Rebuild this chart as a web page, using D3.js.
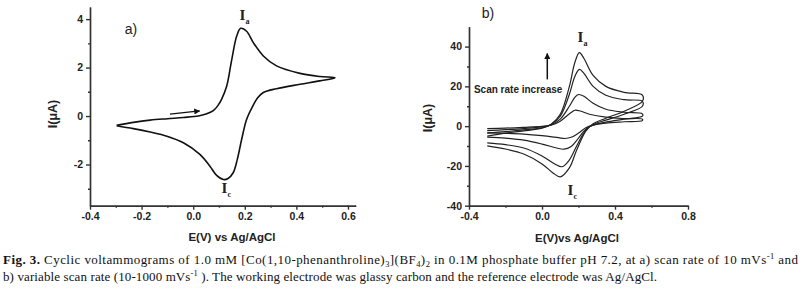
<!DOCTYPE html>
<html lang="en">
<head>
    <meta charset="UTF-8">
    <title>Fig. 3</title>
    <script src="https://cdn.jsdelivr.net/npm/d3@7"></script>
    <style>
        body { margin: 0; background: #fff; }
        .tick text { font-family: "Liberation Sans", Arial, sans-serif; font-weight: bold; font-size: 10.5px; fill: #222; }
        .domain, .tick line { stroke: #333; stroke-width: 1.4; }
    </style>
</head>
<body>
<script>

    // a) 10 mV/s, one closed scan [E (V), I (uA)]
    var cvSlow = [
        [-0.297, -0.38], [-0.232, -0.26], [-0.167, -0.17], [-0.10, -0.11], [-0.038, -0.06], [0.02, 0.0],
        [0.05, 0.08], [0.078, 0.22], [0.095, 0.42], [0.110, 0.69], [0.130, 1.24], [0.149, 2.30],
        [0.169, 3.31], [0.184, 3.62], [0.207, 3.50], [0.233, 3.03], [0.272, 2.48], [0.323, 2.07],
        [0.414, 1.76], [0.491, 1.63], [0.550, 1.58],
        [0.491, 1.45], [0.414, 1.31], [0.323, 1.13], [0.272, 0.97], [0.250, 0.75], [0.233, 0.45],
        [0.207, -0.14], [0.188, -0.96], [0.171, -1.79], [0.155, -2.34], [0.135, -2.58], [0.117, -2.62],
        [0.091, -2.45], [0.065, -2.07], [0.026, -1.58], [-0.038, -1.10], [-0.102, -0.83],
        [-0.167, -0.66], [-0.232, -0.52], [-0.297, -0.40]
    ];

    // b) variable scan rate, largest to smallest
    var cvFast1 = [
        [-0.3, -5.0], [-0.2, -3.5], [-0.1, -2.4], [0.0, -1.0], [0.05, 1.0], [0.10, 6.0], [0.15, 20.0],
        [0.18, 32.0], [0.205, 37.0], [0.23, 34.0], [0.28, 25.5], [0.35, 20.0], [0.45, 17.0], [0.55, 15.6],
        [0.55, 12.5], [0.45, 7.5], [0.35, 4.0], [0.28, 1.2], [0.24, -2.5], [0.19, -12.0], [0.15, -21.0],
        [0.10, -25.5], [0.06, -23.5], [0.0, -19.0], [-0.1, -14.0], [-0.2, -11.5], [-0.3, -9.9]
    ];
    var cvFast2 = [
        [-0.3, -3.5], [-0.2, -2.8], [-0.1, -1.9], [0.0, -0.8], [0.05, 0.8], [0.10, 5.0], [0.15, 16.0],
        [0.18, 25.0], [0.205, 28.5], [0.23, 26.5], [0.28, 20.0], [0.35, 15.5], [0.45, 13.3], [0.55, 12.5],
        [0.55, 10.0], [0.45, 6.0], [0.35, 3.0], [0.28, 0.8], [0.24, -2.0], [0.19, -10.0], [0.15, -17.0],
        [0.11, -20.4], [0.07, -19.0], [0.0, -15.0], [-0.1, -11.0], [-0.2, -9.3], [-0.3, -8.4]
    ];
    var cvFast3 = [
        [-0.3, -2.3], [-0.2, -1.8], [-0.1, -1.2], [0.0, -0.4], [0.05, 0.6], [0.10, 3.5], [0.15, 10.0],
        [0.18, 14.5], [0.20, 15.9], [0.23, 15.0], [0.28, 11.5], [0.35, 8.5], [0.45, 7.0], [0.55, 6.2],
        [0.55, 5.0], [0.45, 3.5], [0.35, 2.0], [0.28, 0.5], [0.24, -1.5], [0.20, -6.0], [0.16, -10.2],
        [0.12, -11.6], [0.08, -11.0], [0.0, -9.0], [-0.1, -7.0], [-0.2, -6.0], [-0.3, -5.5]
    ];
    var cvFast4 = [
        [-0.3, -1.2], [-0.2, -1.0], [-0.1, -0.6], [0.0, -0.1], [0.05, 0.5], [0.10, 2.5], [0.14, 5.5],
        [0.17, 7.5], [0.18, 8.0], [0.21, 7.6], [0.26, 6.0], [0.35, 4.5], [0.45, 3.8], [0.55, 3.5],
        [0.55, 2.8], [0.45, 2.2], [0.35, 1.5], [0.28, 0.5], [0.24, -0.8], [0.20, -3.5], [0.16, -5.6],
        [0.126, -6.2], [0.09, -5.8], [0.0, -4.8], [-0.1, -4.0], [-0.2, -3.6], [-0.3, -3.4]
    ];

    // tick values
    var xTicksA = [-0.4, -0.2, 0.0, 0.2, 0.4, 0.6];
    var xMinorA = [-0.3, -0.1, 0.1, 0.3, 0.5];
    var yTicksA = [-2, 0, 2, 4];
    var yMinorA = [-3, -1, 1, 3];
    var xTicksB = [-0.4, 0.0, 0.4, 0.8];
    var xMinorB = [-0.2, 0.2, 0.6];
    var yTicksB = [-40, -20, 0, 20, 40];
    var yMinorB = [-30, -10, 10, 30];

    var width = 803;
    var height = 290;
    var svg = d3.select("body")
        .append("svg")
        .attr("width", width)
        .attr("height", height);

    svg.append("rect").attr("width", width).attr("height", height).attr("fill", "#fff");

    // arrow head
    svg.append("defs").append("marker")
        .attr("id", "head")
        .attr("viewBox", "0 0 10 10")
        .attr("refX", 9).attr("refY", 5)
        .attr("markerWidth", 6).attr("markerHeight", 6)
        .attr("markerUnits", "userSpaceOnUse")
        .attr("orient", "auto")
        .append("path")
        .attr("d", "M0,0 L10,5 L0,10 z")
        .attr("fill", "#111");

    // scales
    var xA = d3.scaleLinear().domain([-0.4, 0.63]).range([90, 355.7]);
    var yA = d3.scaleLinear().domain([-3.7, 4.5]).range([205.7, 7]);
    var xB = d3.scaleLinear().domain([-0.4, 0.8]).range([469, 688]);
    var yB = d3.scaleLinear().domain([-40, 50]).range([205.7, 26.7]);

    function drawAxes(x, y, xt, xm, yt, ym, fmtX, fmtY) {
        var bottom = y.range()[0];
        var left = x.range()[0];
        svg.append("g").attr("transform", "translate(0," + bottom + ")")
            .call(d3.axisBottom(x).tickValues(xm).tickSize(2).tickSizeOuter(0).tickFormat(""));
        svg.append("g").attr("transform", "translate(0," + bottom + ")")
            .call(d3.axisBottom(x).tickValues(xt).tickSize(4).tickSizeOuter(0).tickPadding(3).tickFormat(fmtX));
        svg.append("g").attr("transform", "translate(" + left + ",0)")
            .call(d3.axisLeft(y).tickValues(ym).tickSize(2).tickSizeOuter(0).tickFormat(""));
        svg.append("g").attr("transform", "translate(" + left + ",0)")
            .call(d3.axisLeft(y).tickValues(yt).tickSize(4).tickSizeOuter(0).tickPadding(3).tickFormat(fmtY));
    }

    var fmt1 = function (d) { return d3.format(".1f")(d).replace("−", "-"); };
    var fmt0 = function (d) { return String(d); };

    drawAxes(xA, yA, xTicksA, xMinorA, yTicksA, yMinorA, fmt1, fmt0);
    drawAxes(xB, yB, xTicksB, xMinorB, yTicksB, yMinorB, fmt1, fmt0);

    // curves
    var lineA = d3.line().x(function (d) { return xA(d[0]); }).y(function (d) { return yA(d[1]); })
        .curve(d3.curveCatmullRom.alpha(0.5));
    var lineB = d3.line().x(function (d) { return xB(d[0]); }).y(function (d) { return yB(d[1]); })
        .curve(d3.curveCatmullRom.alpha(0.5));

    svg.append("path").attr("d", lineA(cvSlow))
        .attr("fill", "none").attr("stroke", "#111").attr("stroke-width", 1.6);

    svg.selectAll("path.cvb")
        .data([cvFast1, cvFast2, cvFast3, cvFast4])
        .enter()
        .append("path")
        .attr("class", "cvb")
        .attr("d", function (d) { return lineB(d); })
        .attr("fill", "none").attr("stroke", "#222").attr("stroke-width", 1.2);

    // arrows
    svg.append("line")
        .attr("x1", xA(-0.09)).attr("y1", yA(0.08))
        .attr("x2", xA(0.025)).attr("y2", yA(0.21))
        .attr("stroke", "#111").attr("stroke-width", 1.3)
        .attr("marker-end", "url(#head)");
    svg.append("line")
        .attr("x1", xB(0.029)).attr("y1", yB(23.5))
        .attr("x2", xB(0.029)).attr("y2", yB(36.5))
        .attr("stroke", "#111").attr("stroke-width", 1.5)
        .attr("marker-end", "url(#head)");

    // axis titles
    var sans = "'Liberation Sans', Arial, sans-serif";
    function title(x, yy, txt, size, rot) {
        var t = svg.append("text")
            .attr("text-anchor", "middle")
            .attr("font-family", sans).attr("font-weight", "bold").attr("font-size", size)
            .attr("fill", "#222")
            .text(txt);
        if (rot) {
            t.attr("transform", "translate(" + x + "," + yy + ") rotate(-90)");
        } else {
            t.attr("x", x).attr("y", yy);
        }
    }
    title(232, 241, "E(V) vs Ag/AgCl", 11.5);
    title(577, 242, "E(V)vs Ag/AgCl", 11.5);
    title(57, 114, "I(\u03bcA)", 12.5, true);
    title(432, 118, "I(\u03bcA)", 12.5, true);

    // panel labels
    svg.append("text").attr("x", xA(-0.265)).attr("y", yA(3.4))
        .attr("font-family", sans).attr("font-size", 14).attr("fill", "#222").text("a)");
    svg.append("text").attr("x", xB(-0.33)).attr("y", yB(54.5))
        .attr("font-family", sans).attr("font-size", 14).attr("fill", "#222").text("b)");

    svg.append("text").attr("x", xB(-0.373)).attr("y", yB(16.5))
        .attr("font-family", sans).attr("font-weight", "bold").attr("font-size", 10).attr("fill", "#222")
        .text("Scan rate increase");

    // peak labels I_a / I_c
    var serif = "'Liberation Serif', 'Times New Roman', serif";
    function peakLabel(px, py, sub) {
        var t = svg.append("text").attr("x", px).attr("y", py)
            .attr("font-family", serif).attr("font-weight", "bold").attr("font-size", 15).attr("fill", "#222");
        t.append("tspan").text("I");
        t.append("tspan").attr("dy", 4).attr("font-size", 8).text(sub);
    }
    peakLabel(xA(0.18), yA(3.95), "a");
    peakLabel(xA(0.11), yA(-3.18), "c");
    peakLabel(xB(0.195), yB(42.3), "a");
    peakLabel(xB(0.14), yB(-34.8), "c");

    // caption
    function caption(yy, len, parts) {
        var t = svg.append("text").attr("x", 3).attr("y", yy)
            .attr("font-family", serif).attr("font-size", 13).attr("fill", "#111")
            .attr("textLength", len).attr("lengthAdjust", "spacing");
        var shift = 0;
        parts.forEach(function (p) {
            var s = t.append("tspan").text(p.t);
            var want = p.sub ? 3 : (p.sup ? -5 : 0);
            if (want !== shift) { s.attr("dy", want - shift); shift = want; }
            if (p.sub || p.sup) s.attr("font-size", 8.5);
            if (p.b) s.attr("font-weight", "bold");
        });
    }
    caption(264, 795, [
        {t: "Fig. 3.", b: true},
        {t: " Cyclic voltammograms of 1.0 mM [Co(1,10-phenanthroline)"},
        {t: "3", sub: true},
        {t: "](BF"},
        {t: "4", sub: true},
        {t: ")"},
        {t: "2", sub: true},
        {t: " in 0.1M phosphate buffer pH 7.2, at a) scan rate of 10 mVs"},
        {t: "-1", sup: true},
        {t: " and"}
    ]);
    caption(281, 654, [
        {t: "b) variable scan rate (10-1000 mVs"},
        {t: "-1", sup: true},
        {t: " ). The working electrode was glassy carbon and the reference electrode was Ag/AgCl."}
    ]);

</script>
</body>
</html>
